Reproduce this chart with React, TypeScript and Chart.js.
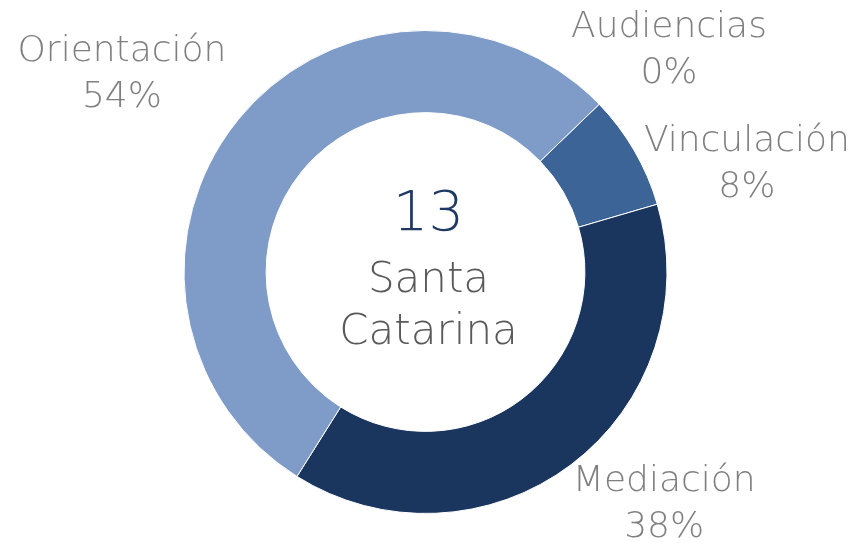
import React, { useEffect, useRef } from "react";
import { Chart, registerables } from "chart.js";

Chart.register(...registerables);

const categories = ["Audiencias", "Vinculación", "Mediación", "Orientación"];
const counts = [0, 1, 5, 7];
const percentLabels = ["0%", "8%", "38%", "54%"];
const centerTotal = "13";
const centerLines = ["Santa", "Catarina"];
const sliceColors = ["#A9BCDB", "#3D6496", "#1A365F", "#7F9CC8"];
// label offsets from the slice's outside anchor (pixels)
const labelOffsets = [
  [41, -29],
  [78, 30],
  [69, 4],
  [-85, -24],
];

const FONT = '"DejaVu Sans", sans-serif';

const labelPlugin = {
  id: "outerLabels",
  afterDraw(chart: any) {
    const ctx = chart.ctx;
    const meta = chart.getDatasetMeta(0);
    ctx.save();
    meta.data.forEach((arc: any, i: number) => {
      const p = arc.getProps(["x", "y", "startAngle", "endAngle", "outerRadius"], true);
      const mid = (p.startAngle + p.endAngle) / 2;
      const r = p.outerRadius + 40;
      const ax = p.x + Math.cos(mid) * r + labelOffsets[i][0];
      const ay = p.y + Math.sin(mid) * r + labelOffsets[i][1];
      ctx.font = `200 36px ${FONT}`;
      ctx.fillStyle = "#7F7F7F";
      ctx.textAlign = "center";
      ctx.textBaseline = "alphabetic";
      ctx.fillText(categories[i], ax, ay - 10);
      ctx.fillText(percentLabels[i], ax, ay + 36);
    });
    const a0 = meta.data[0];
    const cx = a0.x + 3;
    const cy = a0.y;
    ctx.textAlign = "center";
    ctx.textBaseline = "alphabetic";
    ctx.font = `200 56px ${FONT}`;
    ctx.fillStyle = "#1F3864";
    ctx.fillText(centerTotal, cx, cy - 42);
    ctx.font = `200 42px ${FONT}`;
    ctx.fillStyle = "#595959";
    ctx.fillText(centerLines[0], cx, cy + 20);
    ctx.fillText(centerLines[1], cx, cy + 72);
    ctx.restore();
  },
};

export default function App() {
  const ref = useRef<HTMLCanvasElement | null>(null);
  useEffect(() => {
    if (!ref.current) return;
    const chart = new Chart(ref.current, {
      type: "doughnut",
      data: {
        labels: categories,
        datasets: [
          {
            data: counts,
            backgroundColor: sliceColors,
            borderColor: "#FFFFFF",
            borderWidth: 1,
          },
        ],
      },
      options: {
        animation: false,
        responsive: false,
        rotation: 46,
        cutout: "66%",
        layout: { padding: { left: 183, right: 195, top: 30, bottom: 29 } },
        plugins: {
          legend: { display: false },
          tooltip: { enabled: false },
        },
      },
      plugins: [labelPlugin],
    });
    return () => chart.destroy();
  }, []);
  return (
    <div style={{ position: "fixed", left: 0, top: 0, width: 863, height: 543, background: "#fff" }}>
      <canvas ref={ref} width={863} height={543} style={{ width: 863, height: 543 }} />
    </div>
  );
}
